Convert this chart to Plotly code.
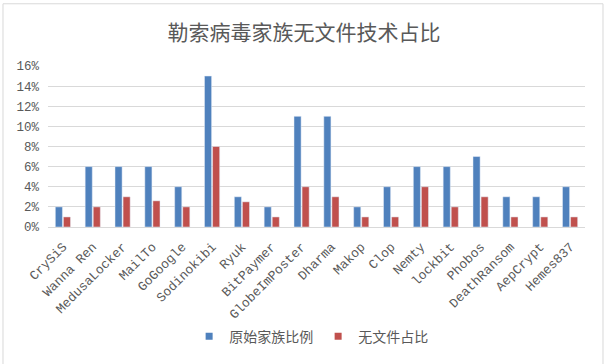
import plotly.graph_objects as go

categories = ["CrySiS", "Wanna Ren", "MedusaLocker", "MailTo", "GoGoogle", "Sodinokibi",
              "Ryuk", "BitPaymer", "GlobeImPoster", "Dharma", "Makop", "Clop", "Nemty",
              "lockbit", "Phobos", "DeathRansom", "AepCrypt", "Hemes837"]
original = [0.02, 0.06, 0.06, 0.06, 0.04, 0.15, 0.03, 0.02, 0.11, 0.11, 0.02, 0.04, 0.06,
            0.06, 0.07, 0.03, 0.03, 0.04]
fileless = [0.01, 0.02, 0.03, 0.026, 0.02, 0.08, 0.025, 0.01, 0.04, 0.03, 0.01, 0.01, 0.04,
            0.02, 0.03, 0.01, 0.01, 0.01]
series_names = ["原始家族比例", "无文件占比"]
colors = ["#4F81BD", "#C0504D"]
title = "勒索病毒家族无文件技术占比"

fig = go.Figure()
for vals, name, col in zip([original, fileless], series_names, colors):
    fig.add_trace(go.Bar(x=categories, y=vals, name=name, marker_color=col, showlegend=False))
# legend entries with small square swatches
for name, col in zip(series_names, colors):
    fig.add_trace(go.Scatter(x=[None], y=[None], mode="markers", name=name,
                             marker=dict(symbol="square", size=7, color=col)))

mono = "'Liberation Mono', monospace"
cjk = "'Noto Sans CJK SC', sans-serif"
fig.update_layout(
    width=608, height=364,
    margin=dict(l=48, r=23, t=66, b=135),
    paper_bgcolor="white", plot_bgcolor="white",
    title=dict(text=title, x=0.5, xanchor="center", y=0.909, yanchor="middle",
               font=dict(family=cjk, size=21, color="#595959")),
    barmode="group", bargap=0.46, bargroupgap=0.12,
    showlegend=True,
    legend=dict(orientation="h", x=0.49, xanchor="center", y=-0.681, yanchor="middle",
                font=dict(family=cjk, size=14, color="#595959"),
                itemwidth=30, tracegroupgap=0),
    xaxis=dict(tickangle=-45, tickfont=dict(family=mono, size=13, color="#595959"),
               ticklabelstandoff=6,
               showline=True, linecolor="#D9D9D9", linewidth=1, ticks="", showgrid=False),
    yaxis=dict(range=[0, 0.16], dtick=0.02, tickformat=".0%",
               tickfont=dict(family=mono, size=12.5, color="#595959"),
               ticklabelstandoff=8,
               showgrid=True, gridcolor="#D9D9D9", gridwidth=1, zeroline=False, ticks=""),
    shapes=[dict(type="rect", xref="paper", yref="paper", x0=-0.0838, x1=1.0335, y0=-0.865, y1=1.3865,
                 line=dict(color="#D9D9D9", width=1))],
)

fig.write_html("out.html", config={"displayModeBar": False},
               post_script="document.body.style.margin='0';")
